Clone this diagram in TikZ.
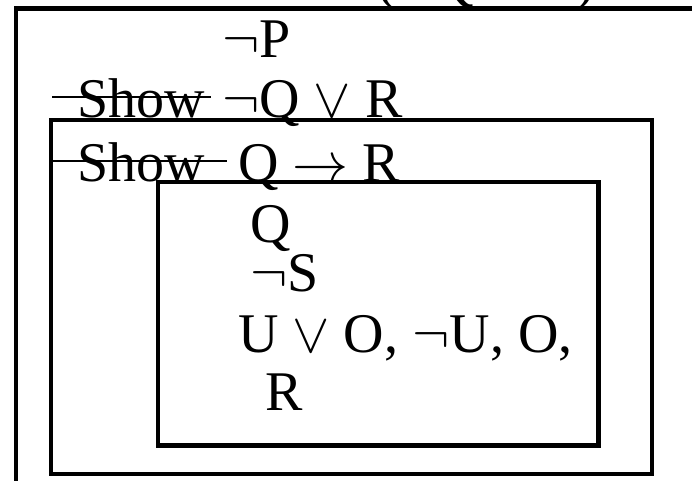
\documentclass[tikz,border=0pt]{standalone}
\usepackage{graphicx}
\usepackage{fontspec}
\setmainfont{Liberation Serif}
\newcommand{\mysym}[1]{\scalebox{5.6}{\fontsize{10}{12}\selectfont$#1$}}
\newcommand{\myneg}{\mysym{\neg}}
\newcommand{\myor}{\mysym{\vee}}
\newcommand{\myimp}{\mysym{\rightarrow}}
\begin{document}
\begin{tikzpicture}[x=1pt,y=-1pt,
  txt/.style={anchor=base west,inner sep=0pt,font=\fontsize{56}{62}\selectfont},
  box/.style={draw=black,line width=4.5pt},
  strike/.style={draw=black,line width=2pt}]
\useasboundingbox (0,0) rectangle (692,480);
% boxes
\draw[box] (16,495) -- (16,8.5) -- (710,8.5);
\draw[box] (51,120) rectangle (652,474);
\draw[box] (158,182) rectangle (598.5,445.5);
% top (cut off) line
\node[txt] (s0) at (77,-2) {Show};
\node[txt] (f0a) at (222,-2) {\myneg P \myimp};
\node[txt] (f0b) at (377,-2) {(\myneg Q \myor\ R)};
% lines
\node[txt] (f1) at (222,57) {\myneg P};
\node[txt] (s1) at (77,117) {Show};
\node[txt] (f2) at (222,117) {\myneg Q \myor\ R};
\node[txt] (s2) at (77,181) {Show};
\node[txt] (f3) at (238,181) {Q \myimp\ R};
\node[txt] (f4) at (250,242) {Q};
\node[txt] (f5) at (250,291) {\myneg S};
\node[txt] (f6) at (238,352) {U \myor\ O, \myneg U, O,};
\node[txt] (f7) at (265,410) {R};
% strike-through lines
\coordinate (a1) at (52,97); \coordinate (b1) at (211,97);
\coordinate (a2) at (52,161); \coordinate (b2) at (227,161);
\draw[strike] (a1) -- (b1);
\draw[strike] (a2) -- (b2);
\end{tikzpicture}
\end{document}
